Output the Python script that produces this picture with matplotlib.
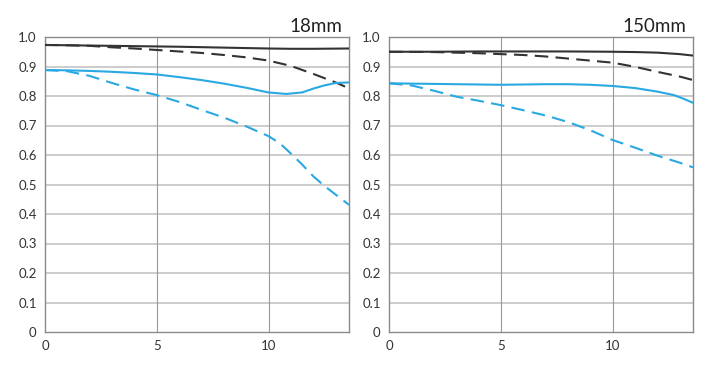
import matplotlib
matplotlib.use("Agg")
import matplotlib.pyplot as plt

plt.rcParams['font.family'] = ['Lato', 'DejaVu Sans']

# ---- data (18mm) ----
l_bs_x = [0, 2, 4, 6, 8, 10, 11, 12, 13.6]
l_bs_y = [0.973, 0.971, 0.969, 0.967, 0.964, 0.961, 0.960, 0.960, 0.961]
l_bd_x = [0, 1, 2, 3, 4, 5, 6, 7, 8, 9, 10, 11, 12, 13, 13.6]
l_bd_y = [0.973, 0.972, 0.970, 0.965, 0.961, 0.956, 0.951, 0.946, 0.939, 0.931, 0.920, 0.902, 0.875, 0.846, 0.826]
l_cs_x = [0, 1, 2, 3, 4, 5, 6, 7, 8, 9, 10, 10.8, 11.5, 12, 12.5, 13, 13.6]
l_cs_y = [0.888, 0.887, 0.885, 0.882, 0.878, 0.873, 0.864, 0.854, 0.842, 0.828, 0.812, 0.807, 0.812, 0.825, 0.836, 0.844, 0.846]
l_cd_x = [0, 1, 2, 3, 4, 5, 6, 7, 8, 9, 10, 10.5, 11, 11.5, 12, 12.5, 13, 13.6]
l_cd_y = [0.888, 0.884, 0.868, 0.844, 0.822, 0.803, 0.780, 0.753, 0.727, 0.697, 0.664, 0.640, 0.605, 0.568, 0.528, 0.495, 0.466, 0.431]

# ---- data (150mm) ----
r_bs_x = [0, 2, 4, 6, 8, 10, 11, 12, 13, 13.6]
r_bs_y = [0.950, 0.950, 0.951, 0.951, 0.951, 0.950, 0.949, 0.947, 0.942, 0.937]
r_bd_x = [0, 2, 4, 5, 6, 7, 8, 9, 10, 11, 12, 13, 13.6]
r_bd_y = [0.950, 0.949, 0.945, 0.942, 0.939, 0.934, 0.927, 0.920, 0.913, 0.899, 0.882, 0.866, 0.854]
r_cs_x = [0, 2, 4, 5, 6, 7, 8, 9, 10, 11, 12, 12.75, 13.2, 13.6]
r_cs_y = [0.843, 0.841, 0.839, 0.838, 0.839, 0.840, 0.840, 0.838, 0.834, 0.827, 0.815, 0.803, 0.790, 0.777]
r_cd_x = [0, 1, 2, 3, 4, 5, 6, 7, 8, 9, 10, 11, 12, 13, 13.6]
r_cd_y = [0.843, 0.836, 0.818, 0.798, 0.784, 0.769, 0.752, 0.734, 0.712, 0.684, 0.651, 0.625, 0.598, 0.574, 0.558]

titles = ["18mm", "150mm"]
x_ticks = [0, 5, 10]
x_ticklabels = ["0", "5", "10"]
y_ticks = [0, 0.1, 0.2, 0.3, 0.4, 0.5, 0.6, 0.7, 0.8, 0.9, 1.0]
y_ticklabels = ["0", "0.1", "0.2", "0.3", "0.4", "0.5", "0.6", "0.7", "0.8", "0.9", "1.0"]

BLUE = "#2aa8e2"
DARK = "#333333"

W, H = 722, 367
fig = plt.figure(figsize=(W / 100, H / 100), dpi=100)

panels = [
    (45, [(l_bs_x, l_bs_y, DARK, '-'), (l_bd_x, l_bd_y, DARK, '--'),
          (l_cs_x, l_cs_y, BLUE, '-'), (l_cd_x, l_cd_y, BLUE, '--')]),
    (389, [(r_bs_x, r_bs_y, DARK, '-'), (r_bd_x, r_bd_y, DARK, '--'),
           (r_cs_x, r_cs_y, BLUE, '-'), (r_cd_x, r_cd_y, BLUE, '--')]),
]

for i, (left_px, series) in enumerate(panels):
    ax = fig.add_axes([left_px / W, (H - 332) / H, 304 / W, 295 / H])
    ax.set_xlim(0, 13.6)
    ax.set_ylim(0, 1.0)
    for y in y_ticks[1:-1]:
        ax.axhline(y, color="#c4c4c4", lw=1.2, zorder=1)
    for x in [5, 10]:
        ax.axvline(x, color="#9a9a9a", lw=0.8, zorder=1)
    for xs, ys, c, ls in series:
        if ls == '--':
            ax.plot(xs, ys, color=c, lw=1.5, dashes=(6.5, 3.5), zorder=3)
        else:
            ax.plot(xs, ys, color=c, lw=1.5, zorder=3)
    ax.set_xticks(x_ticks)
    ax.set_xticklabels(x_ticklabels)
    ax.set_yticks(y_ticks)
    ax.set_yticklabels(y_ticklabels)
    ax.tick_params(length=0, labelsize=9.5, colors="#333333")
    ax.tick_params(axis='y', pad=6)
    ax.tick_params(axis='x', pad=6)
    for sp in ax.spines.values():
        sp.set_color("#8a8a8a")
        sp.set_linewidth(1.0)
    ax.text(0.977, 1.017, titles[i], transform=ax.transAxes, ha='right',
            va='baseline', fontsize=13.5, color="#222222")

fig.savefig("out.png", dpi=100)
